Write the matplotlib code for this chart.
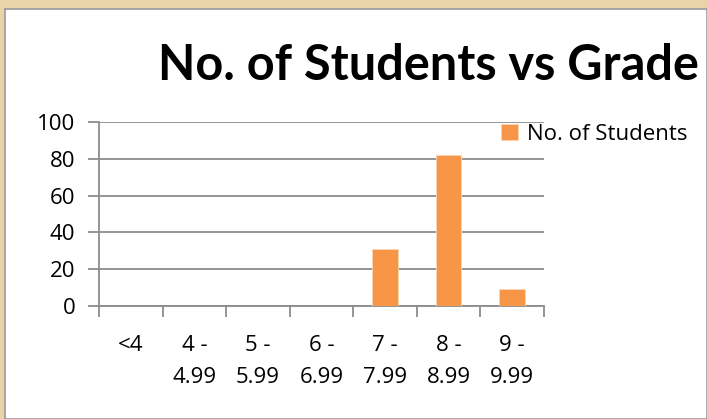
import matplotlib
matplotlib.use("Agg")
import matplotlib.pyplot as plt
import numpy as np

categories = ["<4", "4 -\n4.99", "5 -\n5.99", "6 -\n6.99", "7 -\n7.99", "8 -\n8.99", "9 -\n9.99"]
students = [0, 0, 0, 0, 31, 82, 9]
series_name = "No. of Students"
title = "No. of Students vs Grade"
yticks = [0, 20, 40, 60, 80, 100]

W, H = 707, 419
fig = plt.figure(figsize=(W / 100, H / 100), dpi=100)
fig.patch.set_facecolor("#E9D4AA")

# white chart panel (background axes)
bg = fig.add_axes([5 / W, 0, 1 - 5 / W, (H - 9) / H], zorder=-5)
bg.set_facecolor("white")
bg.set_xticks([]); bg.set_yticks([])
for s in bg.spines.values():
    s.set_color("#9a9a9a"); s.set_linewidth(1.2)

ax = fig.add_axes([99 / W, (H - 306) / H, (544 - 99) / W, (306 - 122) / H], zorder=1)
ax.set_facecolor("none")
x = np.arange(len(categories))
ax.bar(x, students, width=0.4, color="#F79646", edgecolor="#FBD5B5", linewidth=0.6,
       label=series_name, zorder=3)

ax.set_xlim(-0.5, len(categories) - 0.5)
ax.set_ylim(0, 100)
ax.set_yticks(yticks)
ax.yaxis.grid(True, color="#8C8C8C", linewidth=1.3, zorder=1)
ax.set_axisbelow(True)
for s in ["top", "right"]:
    ax.spines[s].set_visible(False)
for s in ["left", "bottom"]:
    ax.spines[s].set_color("#8C8C8C")
    ax.spines[s].set_linewidth(1.3)

tickfont = dict(family="Open Sans", size=16, color="black")
ax.set_yticklabels([str(v) for v in yticks], **tickfont)
ax.tick_params(axis="y", length=8, width=1.3, color="#8C8C8C", pad=9)
ax.set_xticks(x)
ax.set_xticklabels(categories, linespacing=1.65, **tickfont)
ax.tick_params(axis="x", which="major", length=0, pad=21)
ax.set_xticks(np.arange(len(categories) + 1) - 0.5, minor=True)
ax.tick_params(axis="x", which="minor", length=8, width=1.3, color="#8C8C8C", direction="out")

fig.text(428 / W, 1 - 65 / H, title, ha="center", va="center",
         family="Lato", fontweight="bold", fontsize=35, color="black")

ax.legend(loc="upper left", bbox_to_anchor=(501 / W, 1 - 124 / H), bbox_transform=fig.transFigure,
          frameon=False, prop=dict(family="Open Sans", size=16), handlelength=0.75,
          handleheight=0.75, handletextpad=0.4, borderpad=0, borderaxespad=0)

fig.savefig("out.png", dpi=100, facecolor=fig.get_facecolor())
